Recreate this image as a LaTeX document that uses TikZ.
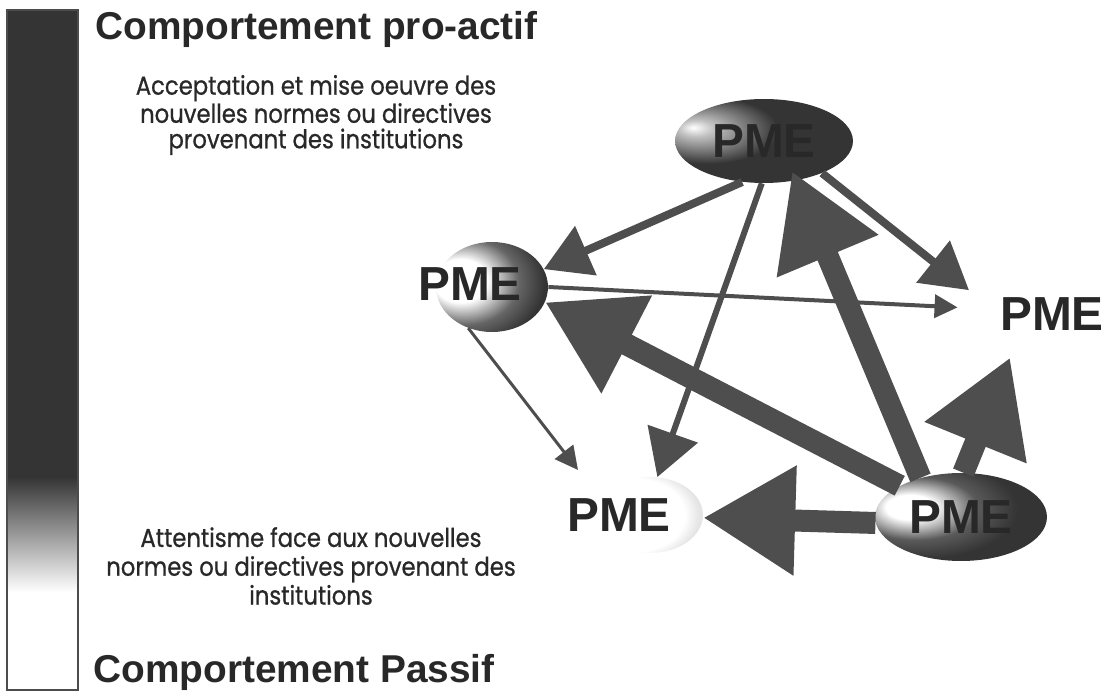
\documentclass[tikz,border=0pt]{standalone}
\usepackage{fontspec}
\setmainfont{Liberation Sans}
\newfontfamily\gothic[FakeStretch=0.88, FakeBold=0.8]{Poppins}
\usetikzlibrary{shapes.geometric, arrows.meta}
\usepackage{xcolor}
\definecolor{darkfill}{RGB}{52,52,52}
\definecolor{arrowgray}{RGB}{78,78,78}
\definecolor{inkgray}{RGB}{40,40,40}

% Sphere-like shadings for the PME bubbles
\pgfdeclareradialshading{topball}{\pgfpoint{-20bp}{8bp}}{color(0bp)=(white); color(5bp)=(gray!50); color(20bp)=(darkfill); color(100bp)=(darkfill)}
\pgfdeclareradialshading{leftball}{\pgfpoint{-16bp}{4bp}}{color(0bp)=(white); color(12bp)=(white); color(24bp)=(gray!80!black); color(34bp)=(darkfill); color(100bp)=(darkfill)}
\pgfdeclareradialshading{brball}{\pgfpoint{-16bp}{6bp}}{color(0bp)=(white); color(7bp)=(white); color(18bp)=(gray!70!black); color(28bp)=(darkfill); color(100bp)=(darkfill)}
\pgfdeclareradialshading{blball}{\pgfpoint{-10bp}{0bp}}{color(0bp)=(white); color(24bp)=(white); color(30bp)=(gray!20); color(40bp)=(gray!30); color(100bp)=(gray!30)}

\tikzset{
    pme/.style={font=\bfseries\fontsize{27.2}{30}\selectfont, text=inkgray},
    sphere/.style={ellipse, inner sep=0pt, shading=#1},
    heading/.style={font=\bfseries\fontsize{22.1}{26}\selectfont, text=inkgray, anchor=base west, inner sep=0pt},
    note/.style={font=\gothic\fontsize{14.7}{#1}\selectfont, align=center, text=inkgray, inner sep=0pt},
    bigarrow/.style={draw=arrowgray, line width=0.44cm, -{Triangle[length=1.84cm, width=2.08cm]}},
    midarrow/.style={draw=arrowgray, line width=#1, -{Triangle[length=0.92cm, width=1.04cm]}},
    thinarrow/.style={draw=arrowgray, line width=#1, -{Triangle[length=0.46cm, width=0.46cm]}}
}

\begin{document}
\begin{tikzpicture}[x=0.02cm, y=-0.02cm]
    \useasboundingbox (0,0) rectangle (1107,692);

    % Gradient bar
    \fill[darkfill] (7,10) rectangle (78,478);
    \shade[top color=darkfill, bottom color=white] (7,477) rectangle (78,592);
    \draw[gray!60!black, line width=0.03cm] (7,10) rectangle (78,690);

    % Titles
    \node[heading] (proactif) at (95,40) {Comportement pro-actif};
    \node[heading] (passif) at (93,683) {Comportement Passif};

    % Descriptions
    \node[note=14.5] (accept) at (316,115) {Acceptation et mise oeuvre des\\nouvelles normes ou directives\\provenant des institutions};
    \node[note=16.4] (attente) at (311,566) {Attentisme face aux nouvelles\\normes ou directives provenant des\\institutions};

    % PME bubbles
    \node[sphere=topball, minimum width=3.56cm, minimum height=1.68cm, pme] (pmeT) at (764,141) {PME};
    \node[sphere=leftball, minimum width=2.24cm, minimum height=1.8cm] (pmeL) at (492,287) {};
    \node[pme] (pmeLt) at (470,284) {PME};
    \node[ellipse, inner sep=0pt, minimum width=3.8cm, minimum height=1.92cm, pme] (pmeR) at (1052,314) {PME};
    \node[sphere=brball, minimum width=3.44cm, minimum height=1.76cm, pme] (pmeBR) at (961,517) {PME};
    \node[sphere=blball, minimum width=2.12cm, minimum height=1.52cm] (pmeBL) at (650,515) {};
    \node[pme] (pmeBLt) at (619,515) {PME};
    \coordinate (blin) at (578,470);

    % Influences from the top PME
    \draw[midarrow=0.16cm] (pmeT.242) -- (pmeL.19);
    \draw[midarrow=0.16cm] (pmeT.-29) -- (pmeR.164);
    \draw[midarrow=0.12cm] (pmeT.267) -- (pmeBL.79);

    % Influences from the left PME
    \draw[thinarrow=0.08cm] (pmeL.0) -- (pmeR.176);
    \draw[thinarrow=0.06cm] (pmeL.240) -- (blin);

    % Influences from the bottom right PME
    \draw[bigarrow] (pmeBR.153) -- (pmeL.-16);
    \draw[bigarrow, shorten >=-0.2cm] (pmeBR.136) -- (pmeT.-51);
    \draw[bigarrow] (pmeBR.87) -- (pmeR.226);
    \draw[bigarrow] (pmeBR.184) -- (pmeBL.-3);

\end{tikzpicture}
\end{document}
